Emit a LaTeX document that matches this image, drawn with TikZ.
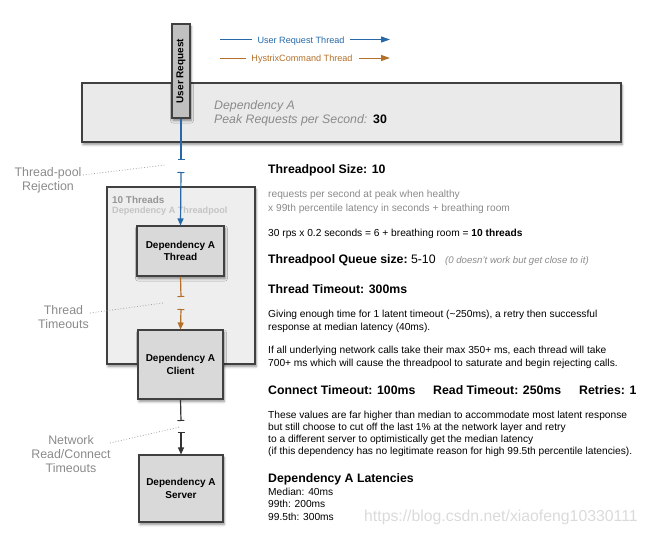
\documentclass[tikz,border=0pt]{standalone}
\usepackage{fontspec}
\setmainfont{Liberation Sans}
\usetikzlibrary{arrows.meta,shadows,shadows.blur}

\definecolor{urblue}{RGB}{38,104,168}
\definecolor{hxorange}{RGB}{178,112,40}
\definecolor{boxborder}{RGB}{64,64,64}
\definecolor{boxfill}{RGB}{217,217,217}
\definecolor{urfill}{RGB}{192,192,192}
\definecolor{bigfill}{RGB}{234,234,234}
\definecolor{poolfill}{RGB}{238,238,238}
\definecolor{labelgray}{RGB}{138,138,138}
\definecolor{poolsub}{RGB}{196,196,196}
\definecolor{watermark}{RGB}{218,218,218}

\begin{document}
\begin{tikzpicture}[x=1pt,y=-1pt,
  shadowed/.style={blur shadow={shadow xshift=1pt,shadow yshift=-2.5pt,shadow blur radius=2.5pt,shadow blur steps=6,shadow opacity=45}},
  box/.style={draw=boxborder,line width=1.1pt,fill=boxfill,shadowed,inner sep=0pt,align=center,
    font=\bfseries\fontsize{10}{12.5}\selectfont},
  bigbox/.style={draw=boxborder,line width=1.1pt,inner sep=0pt,shadowed},
  txt/.style={anchor=base west,inner sep=0pt},
  head/.style={txt,font=\bfseries\fontsize{12.3}{14}\selectfont},
  body/.style={txt,font=\fontsize{10.2}{12.5}\selectfont},
  graybody/.style={body,text=labelgray},
  sidelabel/.style={align=center,text=labelgray,inner sep=0pt,font=\fontsize{12.4}{14.3}\selectfont},
  pointer/.style={labelgray!80,line width=0.8pt,dotted},
  flow/.style={line width=1.2pt},
  brk/.style={-{Bar[width=7pt,line width=1pt]}},
  brkarrow/.style={{Bar[width=7pt,line width=1pt]}-{Triangle[length=7pt,width=6pt]}},
  legarrow/.style={-{Triangle[length=9pt,width=6pt]}},
  legtext/.style={inner sep=0pt,anchor=base,font=\fontsize{9.1}{11}\selectfont}
]
\useasboundingbox (0,0) rectangle (649,536);

% legend
\coordinate (lu0) at (220,39.5);
\coordinate (lu1) at (390,39.5);
\node[legtext,text=urblue] (legu) at (301,43) {User Request Thread};
\draw[urblue,line width=1pt] (lu0) -- ([xshift=-5pt]legu.west |- lu0);
\draw[urblue,line width=1pt,legarrow] ([xshift=5pt]legu.east |- lu0) -- (lu1);
\coordinate (lh0) at (220,58);
\coordinate (lh1) at (390,58);
\node[legtext,text=hxorange] (legh) at (302,61.5) {HystrixCommand Thread};
\draw[hxorange,line width=1pt] (lh0) -- ([xshift=-5pt]legh.west |- lh0);
\draw[hxorange,line width=1pt,legarrow] ([xshift=6pt]legh.east |- lh0) -- (lh1);

% big dependency box
\node[bigbox,fill=bigfill,minimum width=539pt,minimum height=59pt] (dep) at (351.5,112.5) {};
\node[txt,text=labelgray,font=\itshape\fontsize{12.3}{14}\selectfont] (depname) at (214,109) {Dependency A};
\node[txt,text=labelgray,font=\itshape\fontsize{12.3}{14}\selectfont] (peak) at (214,123) {Peak Requests per Second:};
\node[txt,font=\bfseries\fontsize{12.3}{14}\selectfont] (peakval) at (373,123) {30};

% user request box
\node[box,fill=urfill,rotate=90,minimum width=94pt,minimum height=18pt] (ur) at (181,71) {User Request};

% threadpool
\node[bigbox,fill=poolfill,minimum width=148pt,minimum height=177pt] (pool) at (181,275.5) {};
\node[txt,text=labelgray!90,font=\bfseries\fontsize{9.9}{12}\selectfont] (poolsize) at (112,203) {10 Threads};
\node[txt,text=poolsub,font=\bfseries\fontsize{9.1}{11}\selectfont] (poolname) at (112,213.5) {Dependency A Threadpool};

% boxes
\node[box,minimum width=87pt,minimum height=50pt] (thread) at (180.5,251) {Dependency A\\Thread};
\node[box,minimum width=85pt,minimum height=69pt] (client) at (180.5,364.5) {Dependency A\\Client};
\node[box,minimum width=84pt,minimum height=67pt] (server) at (181,488.5) {Dependency A\\Server};

% flows
\coordinate (rb1) at (181,160);
\coordinate (rb2) at (181,172);
\draw[urblue,flow,brk] (ur.west) -- (rb1);
\draw[urblue,flow,brkarrow] (rb2) -- (thread.north);
\coordinate (ob1) at (181,297);
\coordinate (ob2) at (181,309);
\draw[hxorange,flow,brk] (thread.south) -- (ob1);
\draw[hxorange,flow,brkarrow] (ob2) -- (client.north);
\coordinate (nb1) at (181,421);
\coordinate (nb2) at (181,432);
\draw[black!80,flow,brk] (client.south) -- (nb1);
\draw[black!80,flow,brkarrow] (nb2) -- (server.north);

% side labels
\node[sidelabel] (rej) at (48,180) {Thread-pool\\Rejection};
\node[sidelabel] (tto) at (63.5,317) {Thread\\Timeouts};
\node[sidelabel] (nto) at (71,454) {Network\\Read/Connect\\Timeouts};
\coordinate (rejp) at (165,165);
\coordinate (ttop) at (163,303);
\coordinate (ntop) at (180,427);
\draw[pointer] (83,175) -- (rejp);
\draw[pointer] (90,313) -- (ttop);
\draw[pointer] (110,443) -- (ntop);

% right-hand text
\node[head] (h1) at (268,173) {Threadpool Size: 10};
\node[graybody] (g1) at (268,197) {requests per second at peak when healthy};
\node[graybody] (g2) at (268,211) {x 99th percentile latency in seconds + breathing room};
\node[body] (b1) at (268,236) {30 rps x 0.2 seconds = 6 + breathing room = \textbf{10 threads}};
\node[head] (h2) at (268,263) {Threadpool Queue size:\mdseries\ 5-10};
\node[txt,text=labelgray,font=\itshape\fontsize{9.6}{11}\selectfont] (h2note) at (445,263) {(0 doesn't work but get close to it)};
\node[head] (h3) at (268,293) {Thread Timeout: 300ms};
\node[body] (b2) at (268,317) {Giving enough time for 1 latent timeout (\textasciitilde250ms), a retry then successful};
\node[body] (b3) at (268,330.5) {response at median latency (40ms).};
\node[body] (b4) at (268,353) {If all underlying network calls take their max 350+ ms, each thread will take};
\node[body] (b5) at (268,366) {700+ ms which will cause the threadpool to saturate and begin rejecting calls.};
\node[head] (h4) at (268,394) {Connect Timeout: 100ms};
\node[head] (h5) at (433,394) {Read Timeout: 250ms};
\node[head] (h6) at (579,394) {Retries: 1};
\node[body] (b6) at (268,418) {These values are far higher than median to accommodate most latent response};
\node[body] (b7) at (268,430) {but still choose to cut off the last 1\% at the network layer and retry};
\node[body] (b8) at (268,442) {to a different server to optimistically get the median latency};
\node[body] (b9) at (268,454) {(if this dependency has no legitimate reason for high 99.5th percentile latencies).};
\node[head] (h7) at (268,482) {Dependency A Latencies};
\node[body] (l1) at (268,495) {Median: 40ms};
\node[body] (l2) at (268,507.5) {99th: 200ms};
\node[body] (l3) at (268,520) {99.5th: 300ms};
\node[txt,text=watermark,font=\fontsize{15.8}{18}\selectfont] (wm) at (364,521) {https://blog.csdn.net/xiaofeng10330111};
\end{tikzpicture}
\end{document}
